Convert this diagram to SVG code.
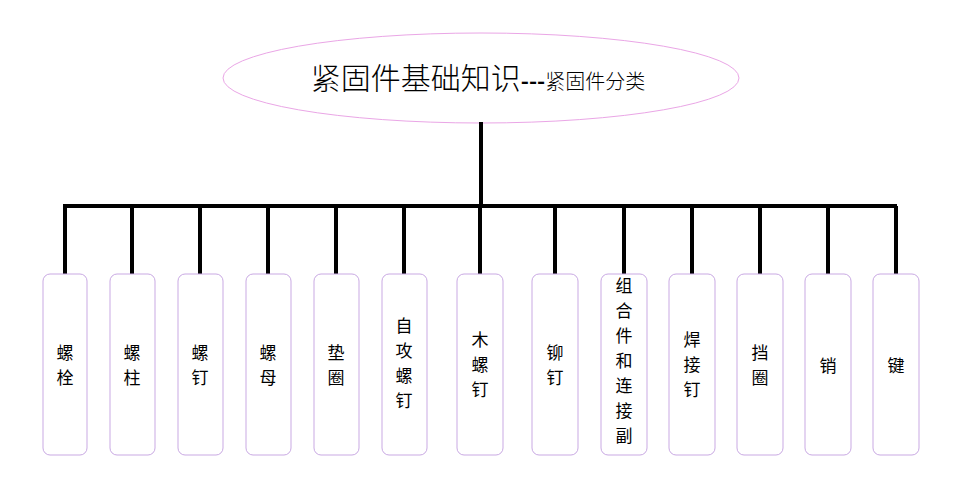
<svg xmlns="http://www.w3.org/2000/svg" width="960" height="483" viewBox="0 0 960 483">
<style>
.b{fill:#fff;stroke:#c9a9e3;stroke-width:1}
.t{font-family:"Noto Sans CJK SC",sans-serif;font-size:17px;fill:#000;text-anchor:middle}
.c{stroke:#000;stroke-width:4;fill:none}
</style>
<rect width="960" height="483" fill="#fff"/>
<g id="root">
<ellipse cx="481" cy="78" rx="258" ry="45" fill="#fff" stroke="#eaa6e6"/>
<text x="478" y="89" font-family="'Noto Sans CJK SC',sans-serif" font-size="30" font-weight="300" text-anchor="middle">紧固件基础知识<tspan font-weight="bold" font-size="22">---</tspan><tspan font-size="20">紧固件分类</tspan></text>
</g>
<g id="connectors" class="c">
<path d="M481 122V206M63 206H897"/>
<path d="M65 206V274M132 206V274M200 206V274M268 206V274M336 206V274M404 206V274M480 206V274M555 206V274M624 206V274M692 206V274M760 206V274M828 206V274M896 206V274"/>
</g>
<g id="n1"><rect class="b" x="43" y="274" width="44" height="181" rx="7"/><text class="t" x="65" y="359">螺</text><text class="t" x="65" y="384">栓</text></g>
<g id="n2"><rect class="b" x="110" y="274" width="45" height="181" rx="7"/><text class="t" x="132" y="359">螺</text><text class="t" x="132" y="384">柱</text></g>
<g id="n3"><rect class="b" x="178" y="274" width="45" height="181" rx="7"/><text class="t" x="200" y="359">螺</text><text class="t" x="200" y="384">钉</text></g>
<g id="n4"><rect class="b" x="246" y="274" width="45" height="181" rx="7"/><text class="t" x="268" y="359">螺</text><text class="t" x="268" y="384">母</text></g>
<g id="n5"><rect class="b" x="314" y="274" width="45" height="181" rx="7"/><text class="t" x="336" y="359">垫</text><text class="t" x="336" y="384">圈</text></g>
<g id="n6"><rect class="b" x="382" y="274" width="45" height="181" rx="7"/><text class="t" x="404" y="332">自</text><text class="t" x="404" y="357">攻</text><text class="t" x="404" y="382">螺</text><text class="t" x="404" y="407">钉</text></g>
<g id="n7"><rect class="b" x="457" y="274" width="46" height="181" rx="7"/><text class="t" x="480" y="346">木</text><text class="t" x="480" y="371">螺</text><text class="t" x="480" y="396">钉</text></g>
<g id="n8"><rect class="b" x="532" y="274" width="46" height="181" rx="7"/><text class="t" x="555" y="359">铆</text><text class="t" x="555" y="384">钉</text></g>
<g id="n9"><rect class="b" x="601" y="274" width="46" height="181" rx="7"/><text class="t" x="624" y="292">组</text><text class="t" x="624" y="317">合</text><text class="t" x="624" y="342">件</text><text class="t" x="624" y="367">和</text><text class="t" x="624" y="392">连</text><text class="t" x="624" y="417">接</text><text class="t" x="624" y="442">副</text></g>
<g id="n10"><rect class="b" x="669" y="274" width="46" height="181" rx="7"/><text class="t" x="692" y="346">焊</text><text class="t" x="692" y="371">接</text><text class="t" x="692" y="396">钉</text></g>
<g id="n11"><rect class="b" x="737" y="274" width="46" height="181" rx="7"/><text class="t" x="760" y="359">挡</text><text class="t" x="760" y="384">圈</text></g>
<g id="n12"><rect class="b" x="805" y="274" width="46" height="181" rx="7"/><text class="t" x="828" y="372">销</text></g>
<g id="n13"><rect class="b" x="873" y="274" width="46" height="181" rx="7"/><text class="t" x="896" y="372">键</text></g>
</svg>
